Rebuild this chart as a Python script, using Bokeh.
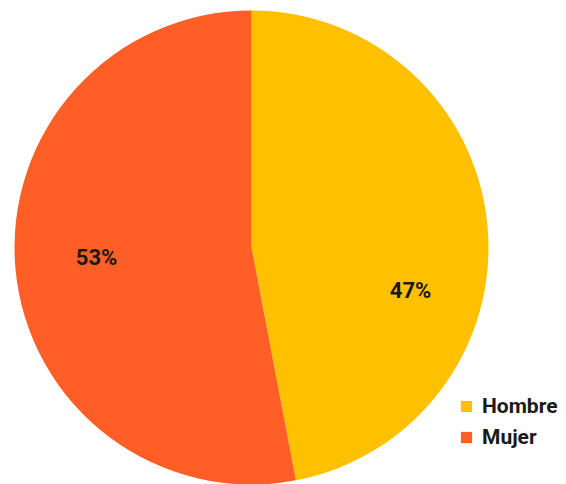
import math
from bokeh.plotting import figure
from bokeh.models import ColumnDataSource, Legend, LegendItem, Range1d
from bokeh.core.properties import value
from bokeh.embed import file_html
from bokeh.resources import INLINE

categories = ["Hombre", "Mujer"]
shares = [47, 53]
labels = ["47%", "53%"]
colors = ["#FFC000", "#FF5F27"]

W, H = 566, 484
p = figure(width=W, height=H, output_backend="svg", toolbar_location=None,
           x_range=Range1d(0, W), y_range=Range1d(0, H), min_border=0)
p.axis.visible = False
p.grid.visible = False
p.outline_line_color = None
p.background_fill_color = "white"

cx, cy, r = 251, 237, 237
total = sum(shares)
starts, ends = [], []
a = math.pi / 2
for s in shares:
    starts.append(a)
    a -= 2 * math.pi * s / total
    ends.append(a)

src = ColumnDataSource(dict(cat=categories, start=starts, end=ends, color=colors))
p.wedge(x=cx, y=cy, radius=r, start_angle="start", end_angle="end",
        direction="clock", fill_color="color", line_color=None, source=src)

# label placement (layout)
label_angles = [math.radians(-15.1), math.radians(-176.3)]
label_rf = [0.695, 0.655]
lx = [cx + f * r * math.cos(t) for t, f in zip(label_angles, label_rf)]
ly = [cy + f * r * math.sin(t) for t, f in zip(label_angles, label_rf)]
p.text(x=lx, y=ly, text=labels, text_align="center", text_baseline="middle",
       text_font=value("Roboto"), text_font_size="22px", text_font_style="bold",
       text_color="#1a1a1a")

items = []
for cat, col in zip(categories, colors):
    rr = p.quad(left=[-1000], right=[-990], bottom=[-1000], top=[-990],
                fill_color=col, line_color=None)
    items.append(LegendItem(label=cat, renderers=[rr]))
legend = Legend(items=items, location=(459, 35), orientation="vertical",
                label_text_font="Roboto", label_text_font_size="21px",
                label_text_font_style="bold",
                label_text_color="#1a1a1a", glyph_width=14, glyph_height=14,
                label_height=21, spacing=7, padding=0, margin=0,
                border_line_color=None, background_fill_alpha=0,
                label_standoff=9)
p.add_layout(legend, "center")

open("out.html", "w").write(file_html(p, INLINE))
